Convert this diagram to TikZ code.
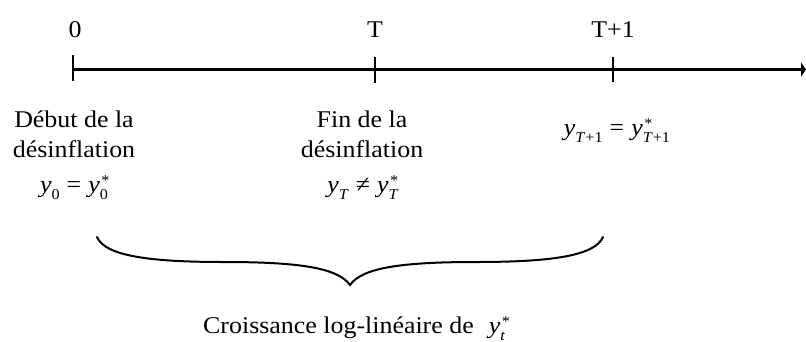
\documentclass[tikz,border=0pt]{standalone}
\usepackage{fontspec}
\setmainfont{Liberation Serif}[FakeStretch=1.08]
\usetikzlibrary{arrows.meta}
\newcommand\subsz{\fontsize{15}{15}\selectfont}
\newcommand\vsub[1]{\textit{y}\raisebox{-0.3em}{\subsz #1}}
\newcommand\vstar[1]{\textit{y}\rlap{\raisebox{0.27em}{\subsz\kern1.5pt*}}\raisebox{-0.3em}{\subsz #1}}
\tikzset{
  lbl/.style={inner sep=0pt, anchor=base, font=\fontsize{24}{28}\selectfont},
  axisline/.style={line width=2.6pt, -{Triangle[length=5pt,width=14pt]}},
  tick/.style={line width=1.3pt},
  bracepath/.style={line width=2pt, line cap=round}
}
\begin{document}
\begin{tikzpicture}[x=1pt,y=-1pt]
\useasboundingbox (0,0) rectangle (806,341);
% axis
\coordinate (ax0) at (73,69.5);
\coordinate (axend) at (806,69.5);
\draw[axisline] (ax0) -- (axend);
% ticks
\coordinate (t0a) at (73,55);  \coordinate (t0b) at (73,81);
\coordinate (tTa) at (375,57); \coordinate (tTb) at (375,83);
\coordinate (t1a) at (613,57); \coordinate (t1b) at (613,82);
\draw[tick] (t0a) -- (t0b);
\draw[tick] (tTa) -- (tTb);
\draw[tick] (t1a) -- (t1b);
% top labels
\node[lbl] (lab0) at (75,37) {0};
\node[lbl] (labT) at (375,37) {T};
\node[lbl] (labT1) at (613,37) {T+1};
% Début
\node[lbl] (deb1) at (74,127) {Début de la};
\node[lbl] (deb2) at (74,157) {désinflation};
\node[lbl] (eq0) at (74,192) {\vsub{0}\kern7pt=\kern7pt\vstar{0}};
% Fin
\node[lbl] (fin1) at (362,127) {Fin de la};
\node[lbl] (fin2) at (362,157) {désinflation};
\node[lbl] (eqT) at (363,192) {\vsub{\textit{T}}\kern7pt≠\kern7pt\vstar{\textit{T}}};
% T+1
\node[lbl] (eqT1) at (617,135) {\vsub{\textit{T}+1}\kern7pt=\kern7pt\vstar{\textit{T}+1}};
% brace
\coordinate (brL) at (97,237);
\coordinate (brLm) at (224,262);
\coordinate (brTip) at (350,285);
\coordinate (brRm) at (476,262);
\coordinate (brR) at (603,237);
\draw[bracepath] (brL) .. controls (105,256) and (150,262) .. (brLm)
  .. controls (300,262) and (338,268) .. (brTip)
  .. controls (362,268) and (400,262) .. (brRm)
  .. controls (550,262) and (595,256) .. (brR);
% bottom label
\node[lbl, anchor=base west] (croiss) at (203,333) {Croissance log-linéaire de\kern15pt\vstar{\textit{t}}};
\end{tikzpicture}
\end{document}
